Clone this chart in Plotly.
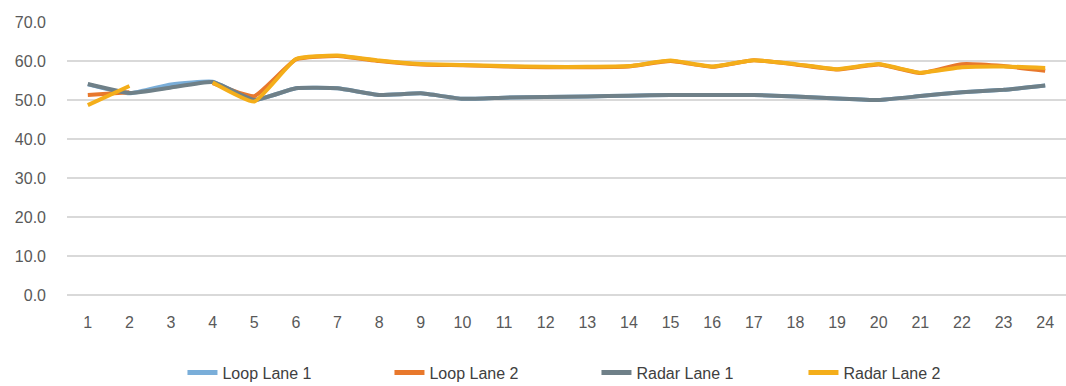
import plotly.graph_objects as go

hours = [str(h) for h in range(1, 25)]

loop_lane_1 = [54.0, 51.7, 54.0, 54.7, 50.0, 53.0, 53.0, 51.3, 51.7, 50.3, 50.6, 50.8,
               50.9, 51.1, 51.3, 51.3, 51.3, 50.9, 50.4, 50.0, 51.0, 52.0, 52.6, 53.7]
loop_lane_2 = [51.3, 52.0, None, 54.3, 51.0, 60.4, 61.3, 60.0, 59.1, 58.9, 58.6, 58.4,
               58.4, 58.6, 60.0, 58.5, 60.2, 59.1, 57.8, 59.1, 56.9, 59.2, 58.7, 57.5]
radar_lane_1 = [54.1, 51.8, 53.2, 54.6, 50.0, 53.0, 53.0, 51.3, 51.7, 50.3, 50.6, 50.8,
                50.9, 51.1, 51.3, 51.3, 51.3, 50.9, 50.4, 50.0, 51.0, 52.0, 52.6, 53.7]
radar_lane_2 = [48.7, 53.6, None, 54.5, 49.6, 60.5, 61.4, 60.1, 59.2, 59.0, 58.7, 58.5,
                58.5, 58.7, 60.1, 58.6, 60.2, 59.2, 57.9, 59.2, 57.0, 58.4, 58.6, 58.2]

series = [
    ("Loop Lane 1", loop_lane_1, "#7aaed9"),
    ("Loop Lane 2", loop_lane_2, "#e8782c"),
    ("Radar Lane 1", radar_lane_1, "#6f8088"),
    ("Radar Lane 2", radar_lane_2, "#f4ae1a"),
]

font_family = "Liberation Sans Narrow, Liberation Sans, Arial, sans-serif"

fig = go.Figure()
for name, values, color in series:
    fig.add_trace(go.Scatter(
        x=hours, y=values, name=name, mode="lines",
        line=dict(color=color, width=4, shape="spline", smoothing=0.4),
        connectgaps=False,
    ))

fig.update_layout(
    width=1066, height=386,
    margin=dict(l=67, r=0, t=22, b=91),
    paper_bgcolor="white", plot_bgcolor="white",
    font=dict(family=font_family, size=16, color="#595959"),
    showlegend=True,
    legend=dict(
        orientation="h", x=0.53, xanchor="center",
        yref="container", y=0.035, yanchor="middle",
        font=dict(size=16, color="#404040"),
        entrywidth=162, entrywidthmode="pixels",
        itemsizing="constant", traceorder="normal",
    ),
    xaxis=dict(
        type="category", range=[-0.5, 23.5],
        showgrid=False, zeroline=False, showline=False,
        ticks="", tickfont=dict(size=16, color="#595959"),
        ticklabelstandoff=16,
    ),
    yaxis=dict(
        range=[0, 70], dtick=10, tickformat=".1f",
        showgrid=True, gridcolor="#d9d9d9", gridwidth=1.5,
        zeroline=True, zerolinecolor="#d9d9d9", zerolinewidth=1.5,
        showline=False, ticks="", tickfont=dict(size=16, color="#595959"),
        ticklabelstandoff=20,
    ),
)

fig.write_html("out.html")
